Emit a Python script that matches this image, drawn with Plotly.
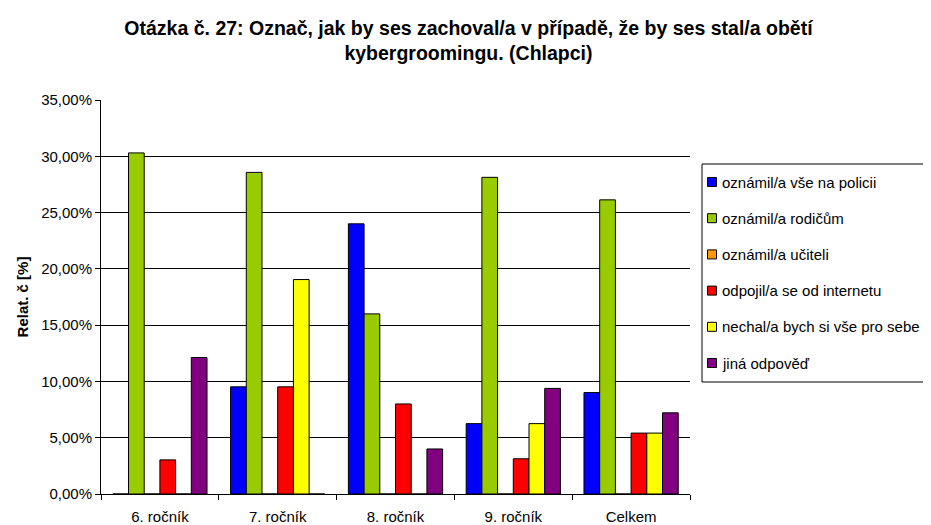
import plotly.graph_objects as go

categories = ["6. ročník", "7. ročník", "8. ročník", "9. ročník", "Celkem"]
series_names = [
    "oznámil/a vše na policii",
    "oznámil/a rodičům",
    "oznámil/a učiteli",
    "odpojil/a se od internetu",
    "nechal/a bych si vše pro sebe",
    "jiná odpověď",
]
policie = [0.0, 9.52, 24.0, 6.25, 9.01]
rodicum = [30.30, 28.57, 16.0, 28.13, 26.13]
uciteli = [0.0, 0.0, 0.0, 0.0, 0.0]
odpojil = [3.03, 9.52, 8.0, 3.13, 5.41]
nechal = [0.0, 19.05, 0.0, 6.25, 5.41]
jina = [12.12, 0.0, 4.0, 9.38, 7.21]
colors = ["#0000FF", "#99CC00", "#FF9900", "#FF0000", "#FFFF00", "#800080"]
values = [policie, rodicum, uciteli, odpojil, nechal, jina]

FONT = "Liberation Sans, Arial, sans-serif"

# layout geometry (figure pixels)
W, H = 931, 525
ML, MR, MT, MB = 93, 249, 92, 39
PW, PH = W - ML - MR, H - MT - MB


def px_x(x):
    return (x - ML) / PW


def px_y(y):
    return 1 - (y - MT) / PH


fig = go.Figure()
for i, (name, vals, col) in enumerate(zip(series_names, values, colors)):
    fig.add_trace(go.Bar(
        x=categories, y=vals, name=name,
        marker=dict(color=col, line=dict(color="#000000", width=1)),
        showlegend=False,
    ))

# legend drawn as box + swatches + text
LEG_L, LEG_T, LEG_B, LEG_R = 694, 156, 374, 960
ITEM0, STEP = 174, 36.2
shapes = [dict(type="rect", xref="paper", yref="paper",
               x0=px_x(LEG_L), x1=px_x(LEG_R), y0=px_y(LEG_B), y1=px_y(LEG_T),
               line=dict(color="#000000", width=1), fillcolor="white", layer="above")]
annotations = []
for i, (name, col) in enumerate(zip(series_names, colors)):
    cy = ITEM0 + STEP * i
    shapes.append(dict(type="rect", xref="paper", yref="paper",
                       x0=px_x(699.5), x1=px_x(708.5), y0=px_y(cy + 4.5), y1=px_y(cy - 4.5),
                       line=dict(color="#000000", width=1), fillcolor=col, layer="above"))
    annotations.append(dict(text=name, xref="paper", yref="paper",
                            x=px_x(712), y=px_y(cy), xanchor="left", yanchor="middle",
                            showarrow=False,
                            font=dict(family=FONT, size=15, color="#000000")))

fig.update_layout(
    width=W, height=H,
    margin=dict(l=ML, r=MR, t=MT, b=MB, autoexpand=False),
    paper_bgcolor="white", plot_bgcolor="white",
    barmode="group", bargap=0.2, bargroupgap=0,
    separators=", ",
    font=dict(family=FONT, size=15, color="#000000"),
    title=dict(
        text="Otázka č. 27: Označ, jak by ses zachoval/a v případě, že by ses stal/a obětí<br>kybergroomingu. (Chlapci)",
        x=0.4946, xanchor="center", y=0.9495, yanchor="middle",
        font=dict(family=FONT, size=19.5, color="#000000", weight="bold"),
    ),
    showlegend=False,
    shapes=shapes,
    annotations=annotations,
)
fig.update_xaxes(
    type="category", showline=True, linecolor="#000000", linewidth=1,
    ticks="outside", tickson="boundaries", ticklen=5, tickcolor="#000000",
    ticklabelstandoff=9,
    showgrid=False, tickfont=dict(family=FONT, size=15, color="#000000"),
)
fig.update_yaxes(
    range=[0, 35], dtick=5, tickformat=".2f", ticksuffix="%",
    showline=True, linecolor="#000000", linewidth=1,
    ticks="outside", ticklen=5, tickcolor="#000000",
    showgrid=True, gridcolor="#000000", gridwidth=1, zeroline=False,
    tickfont=dict(family=FONT, size=15, color="#000000"),
    title=dict(text="<b>Relat. č [%]</b>", font=dict(family=FONT, size=15, color="#000000"), standoff=8),
)

fig.write_html("out.html")
